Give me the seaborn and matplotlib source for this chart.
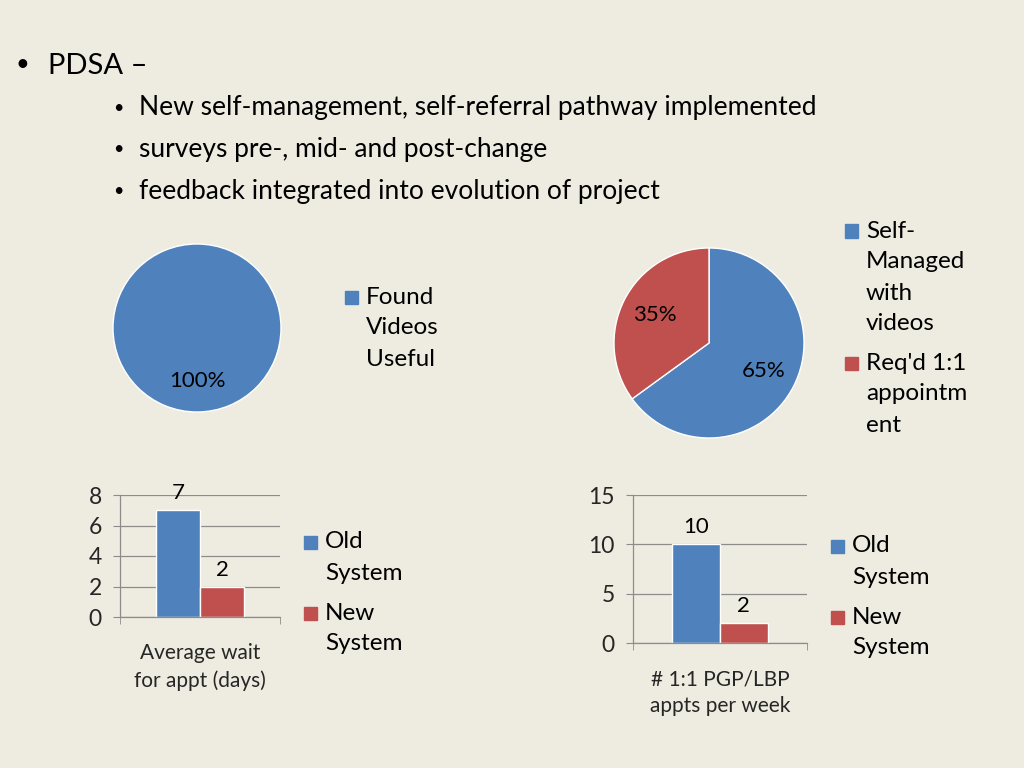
import pandas as pd
import matplotlib.pyplot as plt
import matplotlib.patches as mpatches
import seaborn as sns

# --- data ---
pie1_labels = ["Found\nVideos\nUseful"]
pie1_values = [100]
pie2_labels = ["Self-\nManaged\nwith\nvideos", "Req'd 1:1\nappointm\nent"]
pie2_values = [65, 35]

systems = ["Old\nSystem", "New\nSystem"]
wait_category = "Average wait\nfor appt (days)"
wait_values = [7, 2]
appt_category = "# 1:1 PGP/LBP\nappts per week"
appt_values = [10, 2]

bullet_title = "PDSA \u2013"
bullet_items = [
    "New self-management, self-referral pathway implemented",
    "surveys pre-, mid- and post-change",
    "feedback integrated into evolution of project",
]

# --- style ---
BG = "#EEECE1"
BLUE = "#4F81BD"
RED = "#C0504D"
GRID = "#8C8C8C"
sns.set_style("white")
plt.rcParams['font.family'] = ['Lato', 'DejaVu Sans']
plt.rcParams['text.color'] = 'black'

W, H = 1024, 768
fig = plt.figure(figsize=(W / 100, H / 100), dpi=100, facecolor=BG)


def box(l, t, r, b):
    return [l / W, 1 - b / H, (r - l) / W, (b - t) / H]


def ftext(x, y, s, size, **kw):
    fig.text(x / W, 1 - y / H, s, fontsize=size, va='center', ha='left', **kw)


def legend_block(x, y, label, color, step=31):
    # square aligned with the first line of the label
    sq = 13
    fig.patches.append(mpatches.Rectangle((x / W, 1 - (y + sq / 2) / H), sq / W, sq / H,
                                          transform=fig.transFigure, color=color))
    for i, line in enumerate(label.split("\n")):
        ftext(x + 21, y + i * step, line, 17.5)


# --- bullet text ---
ftext(15, 65, "\u2022", 17)
ftext(48, 66, bullet_title, 21)
for i, item in enumerate(bullet_items):
    yy = 108 + i * 41.5
    ftext(113, yy, "\u2022", 13)
    ftext(139, yy, item, 19)

# --- pie 1 ---
ax1 = fig.add_axes(box(113, 244, 281, 412))
ax1.pie(pie1_values, colors=[BLUE], startangle=90, counterclock=False,
        autopct='%1.0f%%', pctdistance=0.63, textprops={'fontsize': 16})
ax1.set_xlim(-1, 1)
ax1.set_ylim(-1, 1)
ax1.set_aspect('equal')
legend_block(345, 297, pie1_labels[0], BLUE)

# --- pie 2 ---
ax2 = fig.add_axes(box(614, 248, 804, 438))
ax2.pie(pie2_values, colors=[BLUE, RED], startangle=90, counterclock=False,
        autopct='%1.0f%%', pctdistance=0.64, textprops={'fontsize': 16})
ax2.set_xlim(-1, 1)
ax2.set_ylim(-1, 1)
ax2.set_aspect('equal')
legend_block(845, 231, pie2_labels[0], BLUE)
legend_block(845, 363, pie2_labels[1], RED)


# --- bar charts ---
def bar_chart(rect, category, values, ymax, step, leg_x, leg_y):
    df = pd.DataFrame({"category": [category] * len(values),
                       "system": systems, "value": values})
    ax = fig.add_axes(rect)
    ax.set_facecolor(BG)
    sns.barplot(data=df, x="category", y="value", hue="system",
                palette=[BLUE, RED], width=0.55, saturation=1,
                legend=False, ax=ax)
    for c in ax.containers:
        ax.bar_label(c, padding=5, fontsize=16)
    ax.set_xlim(-0.5, 0.5)
    ax.set_ylim(0, ymax)
    ax.set_yticks(range(0, ymax + 1, step))
    ax.yaxis.grid(True, color=GRID, linewidth=0.9)
    ax.set_axisbelow(True)
    ax.set_xlabel("")
    ax.set_ylabel("")
    for s in ["top", "right"]:
        ax.spines[s].set_visible(False)
    for s in ["left", "bottom"]:
        ax.spines[s].set_color(GRID)
        ax.spines[s].set_linewidth(0.9)
    ax.tick_params(axis='y', length=5, color=GRID, labelsize=16.5, pad=8, left=True)
    ax.tick_params(axis='x', which='major', length=0, labelsize=15, pad=19)
    ax.set_xticks([-0.5, 0.5], minor=True)
    ax.tick_params(axis='x', which='minor', length=5, color=GRID, bottom=True)
    ax.set_xticks([0], [category], linespacing=1.4)
    legend_block(leg_x, leg_y, systems[0], BLUE)
    legend_block(leg_x, leg_y + 71, systems[1], RED)
    return ax


bar_chart(box(120, 495, 280, 617), wait_category, wait_values, 8, 2, 304, 542)
bar_chart(box(633, 495, 807, 643), appt_category, appt_values, 15, 5, 831, 546)

plt.savefig("out.png", dpi=100, facecolor=BG)
